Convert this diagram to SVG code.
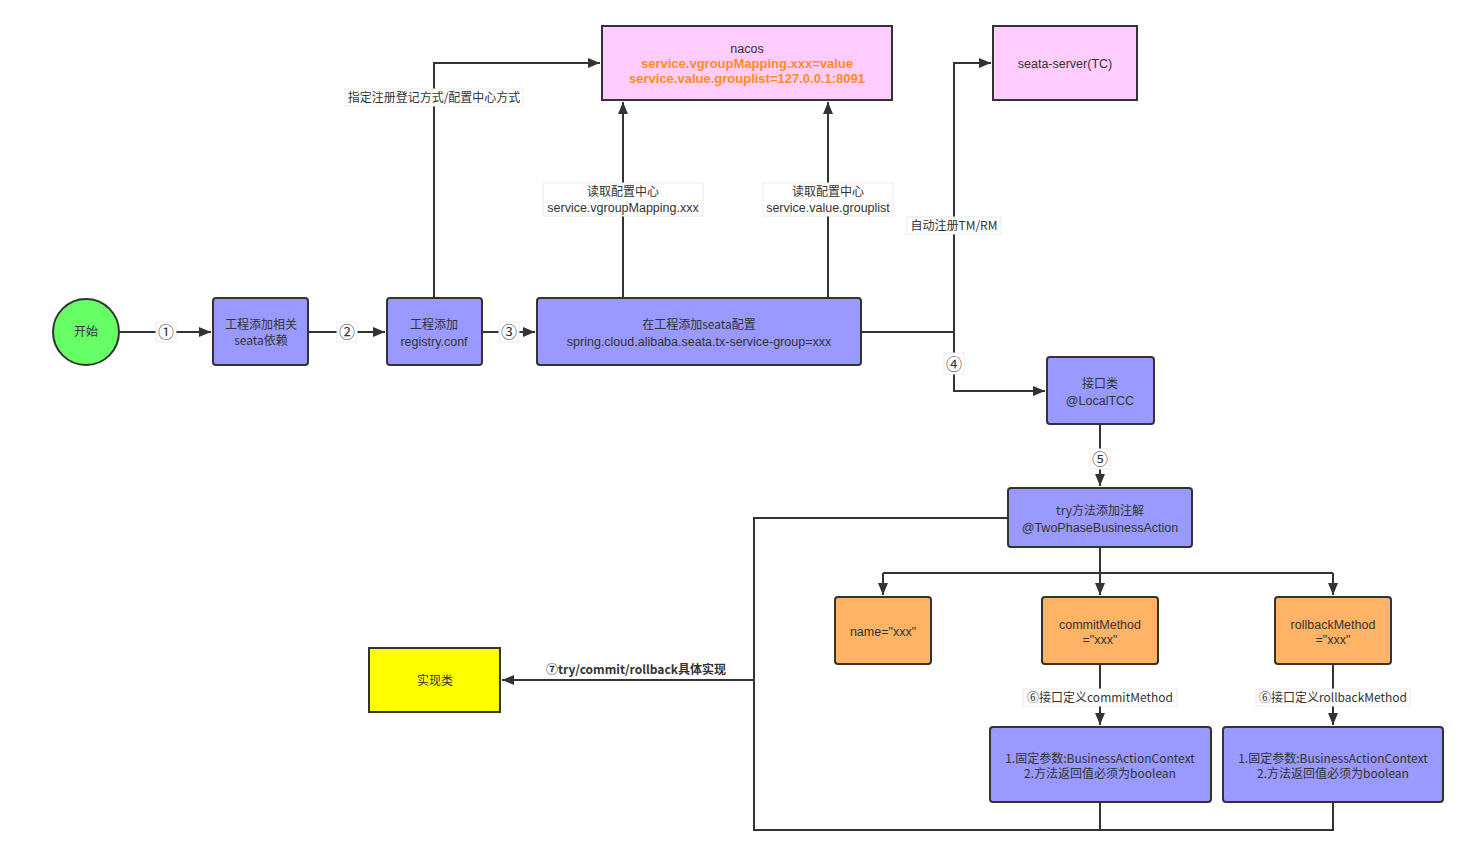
<svg xmlns="http://www.w3.org/2000/svg" width="1471" height="857" viewBox="0 0 1471 857">
<defs>
<marker id="ah" viewBox="0 0 12 10" refX="12" refY="5" markerWidth="12" markerHeight="10" markerUnits="userSpaceOnUse" orient="auto"><path d="M0,0 L12,5 L0,10 z" fill="#333"/></marker>
<style>
text{font-family:"Noto Sans CJK SC","Liberation Sans",sans-serif;font-size:12px;fill:#333;text-anchor:middle}
.blue{fill:#9999ff;stroke:#333;stroke-width:2}
.pink{fill:#ffccff;stroke:#333;stroke-width:2}
.org{fill:#ffb366;stroke:#333;stroke-width:2}
.yel{fill:#ffff00;stroke:#333;stroke-width:2}
.c{fill:none;stroke:#333;stroke-width:2}
.lb{fill:#fff;stroke:#ececec;stroke-width:1}
.o{fill:#ff8c1a;font-weight:bold;font-family:"Liberation Sans",sans-serif;font-size:13px}
.n{font-family:"Liberation Sans",sans-serif;font-size:12.5px}
.num{font-family:"Noto Sans CJK SC",sans-serif;font-size:16px}
.b{font-weight:bold}
</style>
</defs>
<rect width="1471" height="857" fill="#fff"/>
<g id="connectors">
<path class="c" d="M119,332 H211" marker-end="url(#ah)"/>
<path class="c" d="M308,332 H385" marker-end="url(#ah)"/>
<path class="c" d="M482,332 H535" marker-end="url(#ah)"/>
<path class="c" d="M434,298 V63 H600" marker-end="url(#ah)"/>
<path class="c" d="M623,298 V102" marker-end="url(#ah)"/>
<path class="c" d="M828,298 V102" marker-end="url(#ah)"/>
<path class="c" d="M861,332 H954 V63 H991" marker-end="url(#ah)"/>
<path class="c" d="M954,332 V391 H1045" marker-end="url(#ah)"/>
<path class="c" d="M1100,424 V486" marker-end="url(#ah)"/>
<path class="c" d="M1100,547 V595" marker-end="url(#ah)"/>
<path class="c" d="M883,573 H1333"/>
<path class="c" d="M883,573 V595" marker-end="url(#ah)"/>
<path class="c" d="M1333,573 V595" marker-end="url(#ah)"/>
<path class="c" d="M1100,664 V725" marker-end="url(#ah)"/>
<path class="c" d="M1333,664 V725" marker-end="url(#ah)"/>
<path class="c" d="M1008,518 H754 V830 H1333 V802"/>
<path class="c" d="M1100,802 V830"/>
<path class="c" d="M754,680 H502" marker-end="url(#ah)"/>
<rect class="lb" x="156" y="322" width="20" height="20"/><text x="166" y="338" class="num">①</text>
<rect class="lb" x="337" y="322" width="20" height="20"/><text x="347" y="338" class="num">②</text>
<rect class="lb" x="499" y="322" width="20" height="20"/><text x="509" y="338" class="num">③</text>
<rect class="lb" x="944" y="353" width="20" height="21"/><text x="954" y="370" class="num">④</text>
<rect class="lb" x="1090" y="449" width="20" height="20"/><text x="1100" y="465" class="num">⑤</text>
<rect class="lb" x="345" y="89" width="178" height="17"/><text x="434" y="102">指定注册登记方式/配置中心方式</text>
<rect class="lb" x="543" y="183" width="160" height="33"/><text x="623" y="196">读取配置中心</text><text x="623" y="212" class="n">service.vgroupMapping.xxx</text>
<rect class="lb" x="763" y="183" width="130" height="33"/><text x="828" y="196">读取配置中心</text><text x="828" y="212" class="n">service.value.grouplist</text>
<rect class="lb" x="907" y="217" width="94" height="17"/><text x="954" y="230">自动注册TM/RM</text>
<rect class="lb" x="1023" y="689" width="154" height="17"/><text x="1100" y="702">⑥接口定义commitMethod</text>
<rect class="lb" x="1256" y="689" width="154" height="17"/><text x="1333" y="702">⑥接口定义rollbackMethod</text>
<text x="636" y="674" class="b">⑦try/commit/rollback具体实现</text>
</g>
<g id="start"><circle cx="86" cy="332" r="33" fill="#66ff66" stroke="#333" stroke-width="2"/><text x="86" y="336">开始</text></g>
<g id="dep"><rect class="blue" x="213" y="298" width="95" height="67" rx="3"/><text x="261" y="329">工程添加相关</text><text x="261" y="345">seata依赖</text></g>
<g id="registry"><rect class="blue" x="387" y="298" width="95" height="67" rx="3"/><text x="434" y="329">工程添加</text><text x="434" y="346" class="n">registry.conf</text></g>
<g id="config"><rect class="blue" x="537" y="298" width="324" height="67" rx="3"/><text x="699" y="329">在工程添加seata配置</text><text x="699" y="346" class="n">spring.cloud.alibaba.seata.tx-service-group=xxx</text></g>
<g id="nacos"><rect class="pink" x="602" y="26" width="290" height="74"/><text x="747" y="53" class="n">nacos</text><text x="747" y="68" class="o">service.vgroupMapping.xxx=value</text><text x="747" y="83" class="o">service.value.grouplist=127.0.0.1:8091</text></g>
<g id="seata-server"><rect class="pink" x="993" y="26" width="144" height="74"/><text x="1065" y="68" class="n">seata-server(TC)</text></g>
<g id="iface"><rect class="blue" x="1047" y="357" width="107" height="67" rx="3"/><text x="1100" y="388">接口类</text><text x="1100" y="405" class="n">@LocalTCC</text></g>
<g id="try"><rect class="blue" x="1008" y="488" width="184" height="59" rx="3"/><text x="1100" y="515">try方法添加注解</text><text x="1100" y="532" class="n">@TwoPhaseBusinessAction</text></g>
<g id="name"><rect class="org" x="835" y="597" width="96" height="67" rx="3"/><text x="883" y="636" class="n">name="xxx"</text></g>
<g id="commit"><rect class="org" x="1042" y="597" width="116" height="67" rx="3"/><text x="1100" y="629" class="n">commitMethod</text><text x="1100" y="644" class="n">="xxx"</text></g>
<g id="rollback"><rect class="org" x="1275" y="597" width="116" height="67" rx="3"/><text x="1333" y="629" class="n">rollbackMethod</text><text x="1333" y="644" class="n">="xxx"</text></g>
<g id="commit-impl"><rect class="blue" x="990" y="727" width="221" height="75" rx="3"/><text x="1100" y="763">1.固定参数:BusinessActionContext</text><text x="1100" y="778">2.方法返回值必须为boolean</text></g>
<g id="rollback-impl"><rect class="blue" x="1223" y="727" width="220" height="75" rx="3"/><text x="1333" y="763">1.固定参数:BusinessActionContext</text><text x="1333" y="778">2.方法返回值必须为boolean</text></g>
<g id="impl"><rect class="yel" x="369" y="648" width="131" height="64"/><text x="435" y="685">实现类</text></g>
</svg>
